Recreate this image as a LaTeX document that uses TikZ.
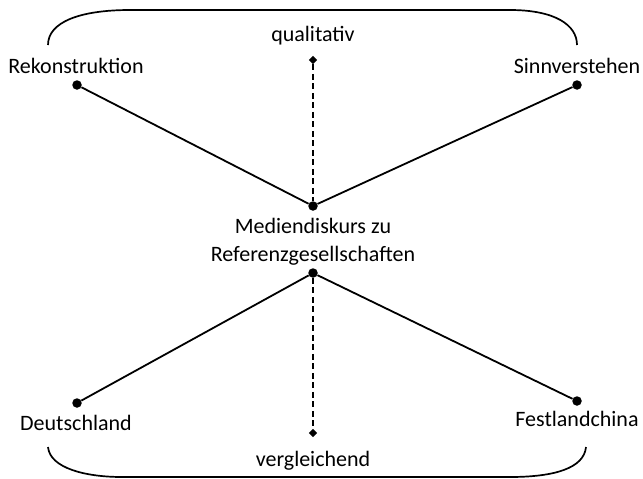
\documentclass[tikz,border=0pt]{standalone}
\usepackage{fontspec}
\setmainfont{Carlito}
\usetikzlibrary{shapes.geometric}
\begin{document}
\begin{tikzpicture}[x=1pt,y=-1pt,
  dotnode/.style={circle,fill=black,inner sep=0pt,minimum size=9.5pt},
  diamnode/.style={diamond,fill=black,inner sep=0pt,minimum size=8.5pt},
  lbl/.style={anchor=base,inner sep=0pt,font=\fontsize{22}{26}\selectfont},
  conn/.style={line width=1.8pt},
  dashconn/.style={line width=1.8pt,dash pattern=on 6pt off 3.5pt},
  brace/.style={line width=1.7pt}]
\useasboundingbox (0,0) rectangle (643,479);
% labels
\node[lbl] (trek) at (76,73) {Rekonstruktion};
\node[lbl] (tsinn) at (577,73) {Sinnverstehen};
\node[lbl] (tqual) at (313,41) {qualitativ};
\node[lbl] (tmed1) at (313,233) {Mediendiskurs zu};
\node[lbl] (tmed2) at (313,261) {Referenzgesellschaften};
\node[lbl] (tdeu) at (76,430) {Deutschland};
\node[lbl] (tfest) at (577,426) {Festlandchina};
\node[lbl] (tverg) at (313,466) {vergleichend};
% dots
\node[dotnode] (rek) at (77,85) {};
\node[dotnode] (sinn) at (577,85) {};
\node[dotnode] (ctop) at (313,206) {};
\node[dotnode] (cbot) at (313,273) {};
\node[dotnode] (deu) at (77,403) {};
\node[dotnode] (fest) at (577,401) {};
\node[diamnode] (qd) at (313,60) {};
\node[diamnode] (vd) at (313,433) {};
% connectors
\draw[conn] (rek) -- (ctop);
\draw[conn] (sinn) -- (ctop);
\draw[conn] (deu) -- (cbot);
\draw[conn] (fest) -- (cbot);
\draw[dashconn] (qd) -- (ctop);
\draw[dashconn] (cbot) -- (vd);
% braces
\coordinate (tl) at (48,45);
\coordinate (tr) at (577,45);
\coordinate (bl) at (48,447);
\coordinate (br) at (586,447);
\draw[brace] (tl) .. controls (48,22) and (80,10) .. (130,10) -- (510,10)
  .. controls (555,10) and (577,25) .. (tr);
\draw[brace] (bl) .. controls (50,468) and (85,477) .. (122,477) -- (510,477)
  .. controls (555,477) and (584,468) .. (br);
\end{tikzpicture}
\end{document}
